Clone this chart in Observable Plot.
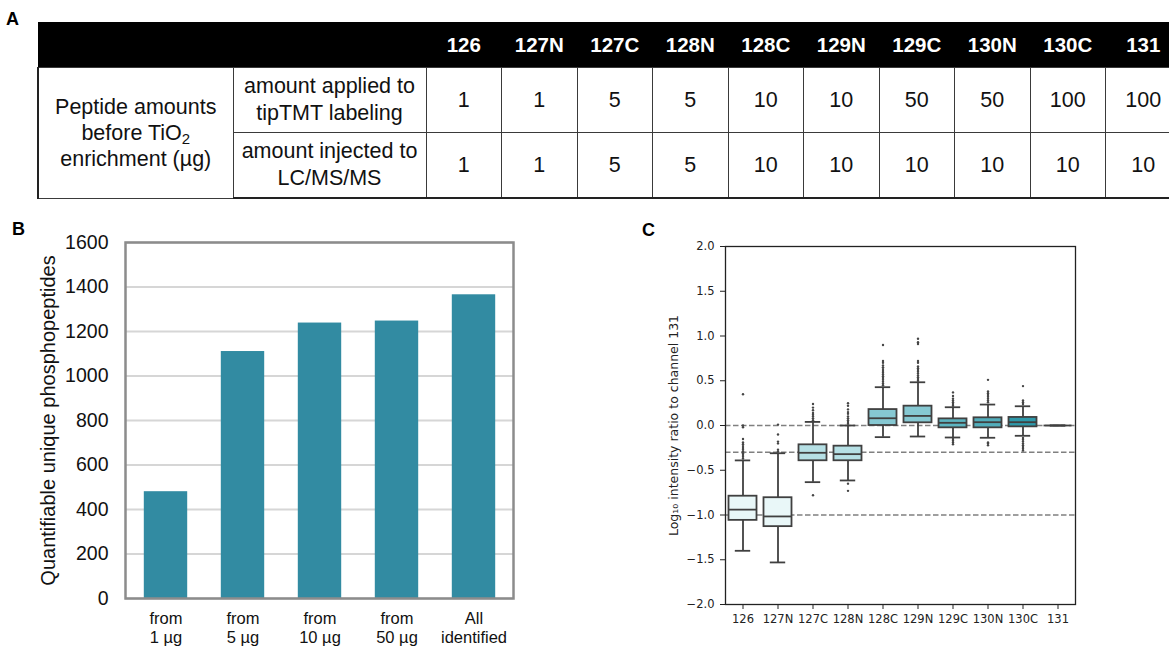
<!DOCTYPE html>
<html>
<head>
<meta charset="utf-8">
<script src="https://cdn.jsdelivr.net/npm/d3@7"></script>
<script src="https://cdn.jsdelivr.net/npm/@observablehq/plot@0.6"></script>
<style>
  html, body { margin: 0; padding: 0; background: #fff; overflow: hidden; }
  #page { position: relative; width: 1169px; height: 649px; overflow: hidden; }
  .panel-label { position: absolute; font-family: "Liberation Sans", Arial, sans-serif; font-weight: bold; font-size: 18px; line-height: 18px; color: #000; }
  #tbl { position: absolute; left: 37px; top: 22px; border-collapse: collapse; table-layout: fixed; width: 1143px;
         font-family: "Liberation Sans", Arial, sans-serif; font-size: 21.5px; color: #111; }
  #tbl th { background: #000; color: #fff; font-weight: bold; font-size: 20.5px; height: 45px; padding: 0; text-align: center; border: none; }
  #tbl td { height: 64px; padding: 0; text-align: center; vertical-align: middle; border: 1.5px solid #3a3a3a; line-height: 27px; }
  #tbl td.c1 { border-left: 2px solid #222; line-height: 26px; }
  #tbl tr:last-child td { border-bottom: 2px solid #222; }
  #tbl sub { font-size: 15px; vertical-align: -4px; line-height: 0; }
  #B { position: absolute; left: 0; top: 215px; }
  #C { position: absolute; left: 630px; top: 215px; }
  svg { overflow: visible; }
</style>
</head>
<body>
<div id="page">
  <div class="panel-label" style="left:6px;top:10px;">A</div>
  <div class="panel-label" style="left:12px;top:220px;">B</div>
  <div class="panel-label" style="left:642px;top:221px;">C</div>
  <table id="tbl"></table>
  <div id="B"></div>
  <div id="C"></div>
</div>
<script>
// ---------- Panel A data ----------
const tableChannels = ["126","127N","127C","128N","128C","129N","129C","130N","130C","131"];
const amountApplied = [1, 1, 5, 5, 10, 10, 50, 50, 100, 100];
const amountInjected = [1, 1, 5, 5, 10, 10, 10, 10, 10, 10];

// ---------- Panel B data ----------
const groupsB = ["from 1 µg", "from 5 µg", "from 10 µg", "from 50 µg", "All identified"];
const groupLabelsB = ["from\n1 µg", "from\n5 µg", "from\n10 µg", "from\n50 µg", "All\nidentified"];
const countsB = [480, 1110, 1238, 1247, 1365];
const yTicksB = [0, 200, 400, 600, 800, 1000, 1200, 1400, 1600];
const yLabelB = "Quantifiable unique phosphopeptides";

// ---------- Panel C data ----------
const channelsC = ["126","127N","127C","128N","128C","129N","129C","130N","130C","131"];
const q1C      = [-1.06, -1.13, -0.394, -0.394, 0.000, 0.030, -0.026, -0.026, -0.015, 0];
const medianC  = [-0.94, -1.016, -0.305, -0.320, 0.081, 0.107, 0.030, 0.037, 0.037, 0];
const q3C      = [-0.79, -0.807, -0.216, -0.231, 0.178, 0.216, 0.074, 0.086, 0.090, 0];
const whiskLoC = [-1.40, -1.53, -0.633, -0.614, -0.130, -0.123, -0.134, -0.137, -0.115, 0];
const whiskHiC = [-0.39, -0.31, 0.040, 0.000, 0.428, 0.483, 0.204, 0.234, 0.215, 0];
const boxColorsC = ["#e9f7f8","#e9f7f8","#b6e0e5","#b6e0e5","#86c8d2","#86c8d2","#5db5c1","#52adbb","#2e99aa","#1a8799"];
const fliers126  = [-0.37,-0.35,-0.33,-0.31,-0.29,-0.27,-0.25,-0.23,-0.21,-0.19,-0.15,-0.02,0.0,0.35];
const fliers127N = [-0.29,-0.27,-0.2,-0.18,-0.1,0.01];
const fliers127C = [0.06,0.08,0.1,0.12,0.14,0.17,0.2,0.24,-0.78];
const fliers128N = [0.02,0.04,0.06,0.08,0.1,0.13,0.15,0.18,0.22,0.25,-0.65,-0.73];
const fliers128C = [0.45,0.47,0.49,0.51,0.53,0.55,0.57,0.59,0.61,0.63,0.65,0.67,0.7,0.72,0.9];
const fliers129N = [0.5,0.52,0.54,0.56,0.58,0.6,0.62,0.64,0.66,0.7,0.72,0.91,0.93,0.97];
const fliers129C = [0.22,0.24,0.26,0.28,0.3,0.33,0.37,-0.15,-0.17,-0.19,-0.21];
const fliers130N = [0.26,0.28,0.3,0.32,0.34,0.36,0.38,0.51,-0.19,-0.2,-0.22];
const fliers130C = [0.24,0.26,0.28,0.44,-0.14,-0.16,-0.18,-0.2,-0.22,-0.24,-0.26,-0.28];
const fliers131  = [];
const refLinesC = [0, -0.3, -1.0];
const yTicksC = [-2, -1.5, -1, -0.5, 0, 0.5, 1, 1.5, 2];
const yLabelC = "Log\u2081\u2080 intensity ratio to channel 131";

// ---------- Panel A: table ----------
(function buildTable() {
  const t = document.getElementById("tbl");
  const cols = `<colgroup><col style="width:195px"><col style="width:193px">${tableChannels.map(() => '<col style="width:75.5px">').join("")}</colgroup>`;
  const head = `<tr><th></th><th></th>${tableChannels.map(c => `<th>${c}</th>`).join("")}</tr>`;
  const r1 = `<tr><td class="c1" rowspan="2">Peptide amounts<br>before TiO<sub>2</sub><br>enrichment (µg)</td><td>amount applied to<br>tipTMT labeling</td>${amountApplied.map(v => `<td>${v}</td>`).join("")}</tr>`;
  const r2 = `<tr><td>amount injected to<br>LC/MS/MS</td>${amountInjected.map(v => `<td>${v}</td>`).join("")}</tr>`;
  t.innerHTML = cols + head + r1 + r2;
})();

// ---------- Panel B: bar chart ----------
const rowsB = groupsB.map((g, i) => ({g, v: countsB[i], label: groupLabelsB[i]}));
const plotB = Plot.plot({
  width: 560, height: 434,
  marginLeft: 125, marginRight: 47, marginTop: 27, marginBottom: 51,
  x: {domain: groupsB, padding: 0, axis: null},
  y: {domain: [0, 1600]},
  style: {fontFamily: "'Liberation Sans', Arial, sans-serif", fontSize: "19px", color: "#111", background: "transparent"},
  marks: [
    Plot.gridY(yTicksB, {stroke: "#d6d6d6", strokeOpacity: 1, strokeWidth: 2}),
    Plot.barY(rowsB, {x: "g", y: "v", fill: "#328ba2", insetLeft: 16.8, insetRight: 16.8}),
    Plot.frame({stroke: "#8c8c8c", strokeWidth: 2.5}),
    Plot.axisY({ticks: yTicksB, tickFormat: d => String(d), tickSize: 0, tickPadding: 17, label: null, fontSize: 19.5}),
    Plot.text(rowsB, {x: "g", text: "label", frameAnchor: "bottom", dy: 12.5, lineAnchor: "top", lineHeight: 1.15, fontSize: 16.5, fill: "#111"}),
    Plot.text([yLabelB], {text: d => d, frameAnchor: "left", textAnchor: "middle", dx: -77, rotate: -90, fontSize: 20, fill: "#111"})
  ]
});
document.getElementById("B").appendChild(plotB);

// ---------- Panel C: box plot ----------
const rowsC = channelsC.map((c, i) => ({c, q1: q1C[i], med: medianC[i], q3: q3C[i], lo: whiskLoC[i], hi: whiskHiC[i], color: boxColorsC[i]}));
const flierLists = [fliers126, fliers127N, fliers127C, fliers128N, fliers128C, fliers129N, fliers129C, fliers130N, fliers130C, fliers131];
const fliersC = flierLists.flatMap((arr, i) => arr.map(v => ({c: channelsC[i], v})));
const edge = "#404040";
const plotC = Plot.plot({
  width: 539, height: 434,
  marginLeft: 95, marginRight: 94, marginTop: 31, marginBottom: 45,
  x: {domain: channelsC, padding: 0},
  y: {domain: [-2, 2]},
  style: {fontFamily: "'DejaVu Sans', sans-serif", fontSize: "11.5px", color: "#222", background: "transparent"},
  marks: [
    Plot.ruleY(refLinesC, {stroke: "#808080", strokeWidth: 1.5, strokeDasharray: "5.5,2.5"}),
    Plot.ruleX(rowsC, {x: "c", y1: "lo", y2: "hi", stroke: edge, strokeWidth: 1.8}),
    Plot.barY(rowsC, {x: "c", y1: "q1", y2: "q3", fill: "color", stroke: edge, strokeWidth: 1.8, insetLeft: 3.5, insetRight: 3.5}),
    Plot.tickY(rowsC, {x: "c", y: "med", stroke: edge, strokeWidth: 1.8, insetLeft: 3.5, insetRight: 3.5}),
    Plot.tickY(rowsC, {x: "c", y: "lo", stroke: edge, strokeWidth: 1.8, insetLeft: 9.8, insetRight: 9.8}),
    Plot.tickY(rowsC, {x: "c", y: "hi", stroke: edge, strokeWidth: 1.8, insetLeft: 9.8, insetRight: 9.8}),
    Plot.dot(fliersC, {x: "c", y: "v", r: 1.2, fill: "#454545", stroke: null}),
    Plot.frame({stroke: "#222", strokeWidth: 1.3}),
    Plot.axisY({ticks: yTicksC, tickFormat: d3.format(".1f"), tickSize: 5, tickPadding: 6, label: null, stroke: "#222"}),
    Plot.axisX({tickSize: 5, tickPadding: 5, label: null, stroke: "#222"}),
    Plot.text([yLabelC], {text: d => d, frameAnchor: "left", textAnchor: "middle", dx: -52, rotate: -90, fontSize: 12.5, fill: "#222"})
  ]
});
document.getElementById("C").appendChild(plotC);
</script>
</body>
</html>
